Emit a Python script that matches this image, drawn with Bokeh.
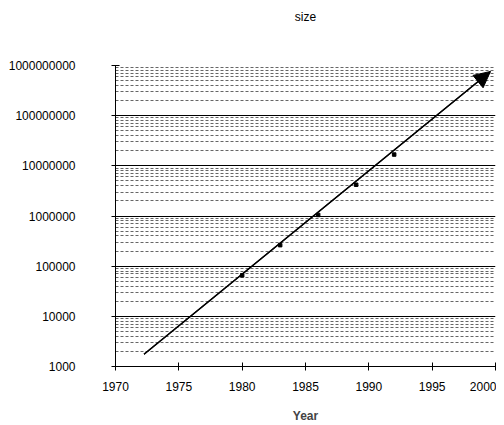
from bokeh.plotting import figure
from bokeh.models import (FixedTicker, NumeralTickFormatter, Arrow, NormalHead,
                          Range1d, LinearAxis)
from bokeh.embed import file_html
from bokeh.resources import INLINE

# ---- data ----
years = [1980, 1983, 1986, 1989, 1992]
sizes = [65536, 262144, 1048576, 4194304, 16777216]
trend_years = [1972.25, 1999.6]
trend_sizes = [1750, 7.6e8]
x_ticks = [1970, 1975, 1980, 1985, 1990, 1995, 2000]
y_ticks = [1e3, 1e4, 1e5, 1e6, 1e7, 1e8, 1e9]
y_minor = [m * d for d in y_ticks[:-1] for m in range(2, 10)]
title_text = "size"

FONT = "Liberation Sans"

p = figure(width=496, height=425, output_backend="svg", toolbar_location=None,
           y_axis_type="log",
           x_range=Range1d(1970, 2000), y_range=Range1d(1000, 1e9),
           min_border_left=115, min_border_right=1,
           min_border_top=65, min_border_bottom=59)
p.outline_line_color = None
p.background_fill_color = "white"
p.border_fill_color = "white"

bottom_axis = p.below[0]
left_axis = p.left[0]

# title: an empty axis above the plot whose label is the chart title
top_axis = LinearAxis(ticker=FixedTicker(ticks=[]), axis_line_color=None,
                      major_tick_line_color=None, minor_tick_line_color=None,
                      major_tick_in=0, major_tick_out=0,
                      minor_tick_in=0, minor_tick_out=0,
                      major_label_text_font_size="0px", major_label_standoff=0,
                      axis_label=title_text, axis_label_standoff=42,
                      axis_label_text_font=FONT, axis_label_text_font_size="12px",
                      axis_label_text_font_style="normal",
                      axis_label_text_color="black")
p.add_layout(top_axis, "above")

# axes
bottom_axis.ticker = FixedTicker(ticks=x_ticks)
left_axis.ticker = FixedTicker(ticks=y_ticks, minor_ticks=y_minor)
left_axis.formatter = NumeralTickFormatter(format="0")
for ax in (bottom_axis, left_axis):
    ax.axis_line_color = "black"
    ax.axis_line_width = 1
    ax.major_tick_line_color = "black"
    ax.major_tick_in = 4
    ax.major_tick_out = 4
    ax.minor_tick_line_color = None
    ax.major_label_text_font = FONT
    ax.major_label_text_font_size = "12px"
    ax.major_label_text_color = "black"
left_axis.major_label_standoff = 36
bottom_axis.major_label_standoff = 11
bottom_axis.axis_label = "Year"
bottom_axis.axis_label_text_font = FONT
bottom_axis.axis_label_text_font_size = "12px"
bottom_axis.axis_label_text_font_style = "bold"
bottom_axis.axis_label_standoff = 15

# grid
p.xgrid.grid_line_color = None
p.ygrid.grid_line_color = "black"
p.ygrid.grid_line_width = 1
p.ygrid.minor_grid_line_color = "#666666"
p.ygrid.minor_grid_line_dash = "3 2"
p.ygrid.minor_grid_line_width = 1

# trend line with arrow
p.line(trend_years, trend_sizes, line_color="black", line_width=1.3)
p.add_layout(Arrow(end=NormalHead(size=16, fill_color="black", line_color="black"),
                   x_start=trend_years[0], y_start=trend_sizes[0],
                   x_end=trend_years[1], y_end=trend_sizes[1],
                   line_color="black", line_width=1.3))

# data points
p.scatter(years, sizes, marker="square", size=3.5, fill_color="black",
          line_color="black")

open("out.html", "w").write(file_html(p, INLINE))
